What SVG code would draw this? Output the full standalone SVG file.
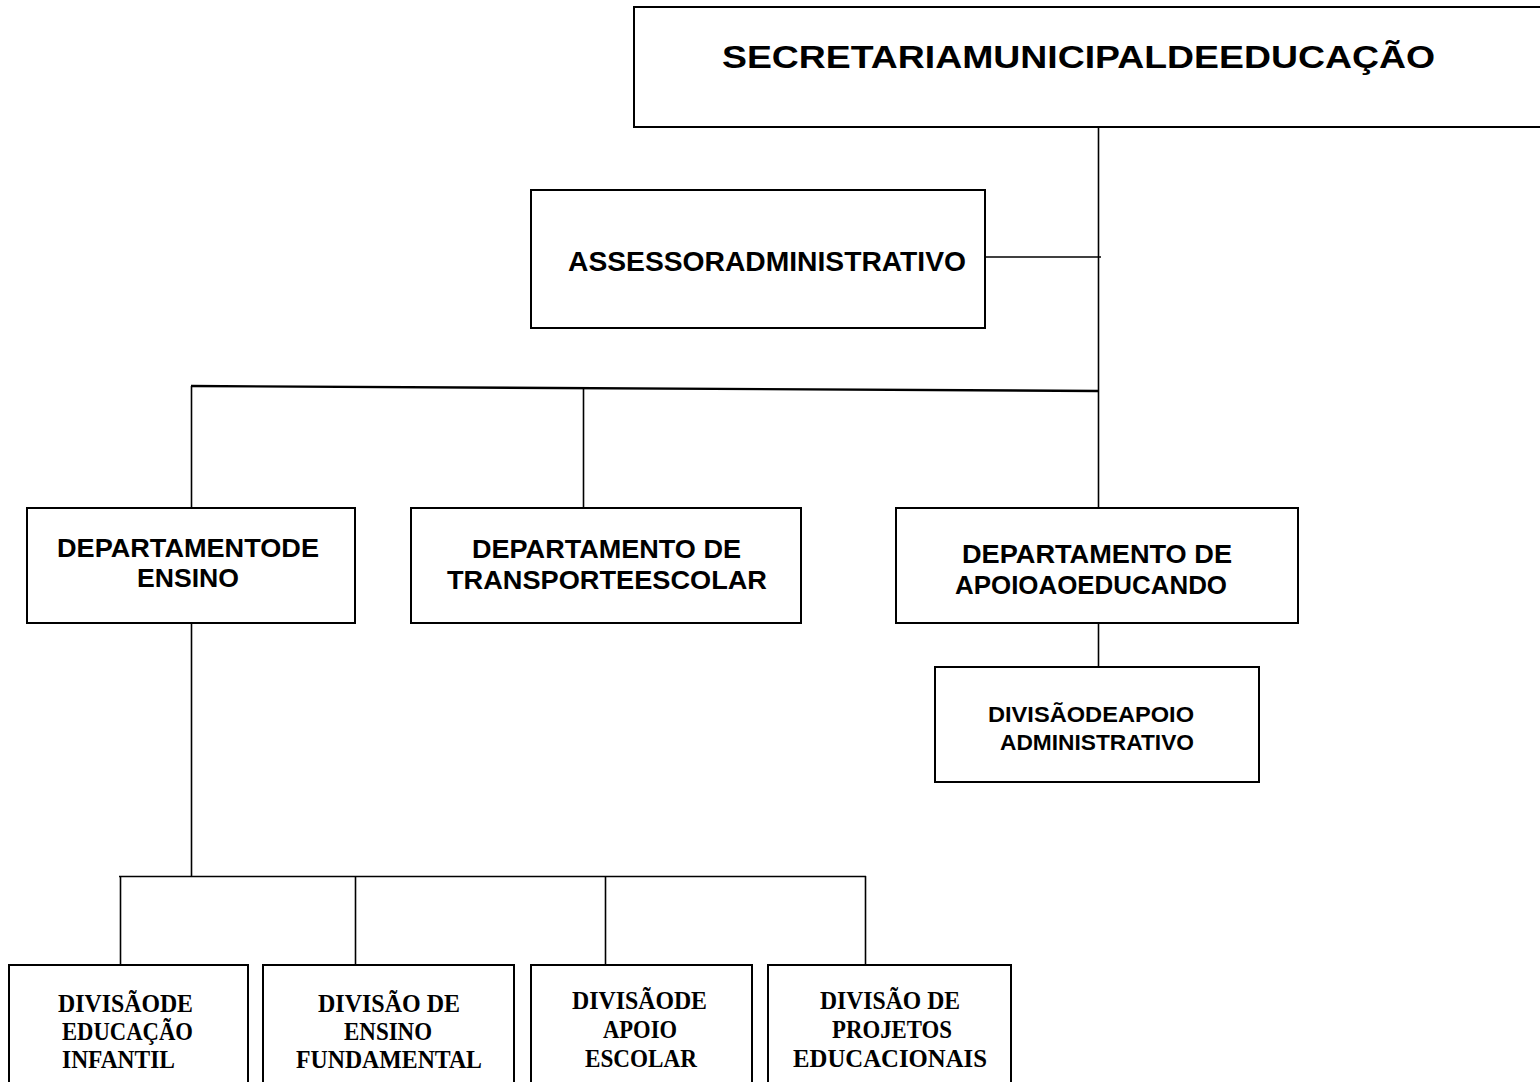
<svg xmlns="http://www.w3.org/2000/svg" width="1540" height="1082" viewBox="0 0 1540 1082">
<style>
.box{fill:#fff;stroke:#000;stroke-width:2}
.ln{stroke:#000;stroke-width:1.6;fill:none}
.s{font-family:"Liberation Sans",Arial,sans-serif;font-weight:bold;fill:#000}
.r{font-family:"Liberation Serif","Times New Roman",serif;font-weight:bold;fill:#000;font-size:25px}
</style>
<rect x="0" y="0" width="1540" height="1082" fill="#fff"/>
<g id="connectors">
<line class="ln" x1="1098.5" y1="127" x2="1098.5" y2="508"/>
<line class="ln" x1="985" y1="257" x2="1101" y2="257"/>
<line x1="191" y1="386" x2="1098" y2="391" stroke="#000" stroke-width="2.4"/>
<line class="ln" x1="191.5" y1="386" x2="191.5" y2="508"/>
<line class="ln" x1="583.5" y1="389" x2="583.5" y2="508"/>
<line class="ln" x1="1098.5" y1="623" x2="1098.5" y2="667"/>
<line class="ln" x1="191.5" y1="623" x2="191.5" y2="876"/>
<line class="ln" x1="119" y1="876.5" x2="866" y2="876.5"/>
<line class="ln" x1="120.5" y1="876" x2="120.5" y2="965"/>
<line class="ln" x1="355.5" y1="876" x2="355.5" y2="965"/>
<line class="ln" x1="605.5" y1="876" x2="605.5" y2="965"/>
<line class="ln" x1="865.5" y1="876" x2="865.5" y2="965"/>
</g>
<g id="secretaria">
<rect class="box" x="634" y="7" width="920" height="120"/>
<text class="s" x="722" y="68" font-size="32" textLength="713" lengthAdjust="spacingAndGlyphs">SECRETARIAMUNICIPALDEEDUCAÇÃO</text>
</g>
<g id="assessor">
<rect class="box" x="531" y="190" width="454" height="138"/>
<text class="s" x="568" y="271" font-size="27" textLength="398" lengthAdjust="spacingAndGlyphs">ASSESSORADMINISTRATIVO</text>
</g>
<g id="dep-ensino">
<rect class="box" x="27" y="508" width="328" height="115"/>
<text class="s" x="57" y="557" font-size="25" textLength="262" lengthAdjust="spacingAndGlyphs">DEPARTAMENTODE</text>
<text class="s" x="137" y="587" font-size="25" textLength="102" lengthAdjust="spacingAndGlyphs">ENSINO</text>
</g>
<g id="dep-transporte">
<rect class="box" x="411" y="508" width="390" height="115"/>
<text class="s" x="472" y="558" font-size="25" textLength="269" lengthAdjust="spacingAndGlyphs">DEPARTAMENTO DE</text>
<text class="s" x="447" y="589" font-size="25" textLength="320" lengthAdjust="spacingAndGlyphs">TRANSPORTEESCOLAR</text>
</g>
<g id="dep-apoio">
<rect class="box" x="896" y="508" width="402" height="115"/>
<text class="s" x="962" y="563" font-size="25" textLength="270" lengthAdjust="spacingAndGlyphs">DEPARTAMENTO DE</text>
<text class="s" x="955" y="594" font-size="25" textLength="272" lengthAdjust="spacingAndGlyphs">APOIOAOEDUCANDO</text>
</g>
<g id="div-apoio-adm">
<rect class="box" x="935" y="667" width="324" height="115"/>
<text class="s" x="988" y="722" font-size="22" textLength="206" lengthAdjust="spacingAndGlyphs">DIVISÃODEAPOIO</text>
<text class="s" x="1000" y="750" font-size="22" textLength="194" lengthAdjust="spacingAndGlyphs">ADMINISTRATIVO</text>
</g>
<g id="div-infantil">
<rect class="box" x="9" y="965" width="239" height="130"/>
<text class="r" x="58" y="1012" font-size="23" textLength="135" lengthAdjust="spacingAndGlyphs">DIVISÃODE</text>
<text class="r" x="62" y="1040" font-size="23" textLength="131" lengthAdjust="spacingAndGlyphs">EDUCAÇÃO</text>
<text class="r" x="62" y="1068" font-size="23" textLength="113" lengthAdjust="spacingAndGlyphs">INFANTIL</text>
</g>
<g id="div-fundamental">
<rect class="box" x="263" y="965" width="251" height="130"/>
<text class="r" x="318" y="1012" textLength="142" lengthAdjust="spacingAndGlyphs">DIVISÃO DE</text>
<text class="r" x="344" y="1040" textLength="88" lengthAdjust="spacingAndGlyphs">ENSINO</text>
<text class="r" x="296" y="1068" textLength="186" lengthAdjust="spacingAndGlyphs">FUNDAMENTAL</text>
</g>
<g id="div-escolar">
<rect class="box" x="531" y="965" width="221" height="130"/>
<text class="r" x="572" y="1009" textLength="135" lengthAdjust="spacingAndGlyphs">DIVISÃODE</text>
<text class="r" x="603" y="1038" textLength="74" lengthAdjust="spacingAndGlyphs">APOIO</text>
<text class="r" x="585" y="1067" textLength="112" lengthAdjust="spacingAndGlyphs">ESCOLAR</text>
</g>
<g id="div-projetos">
<rect class="box" x="768" y="965" width="243" height="130"/>
<text class="r" x="820" y="1009" textLength="140" lengthAdjust="spacingAndGlyphs">DIVISÃO DE</text>
<text class="r" x="832" y="1038" textLength="120" lengthAdjust="spacingAndGlyphs">PROJETOS</text>
<text class="r" x="793" y="1067" textLength="194" lengthAdjust="spacingAndGlyphs">EDUCACIONAIS</text>
</g>
</svg>
